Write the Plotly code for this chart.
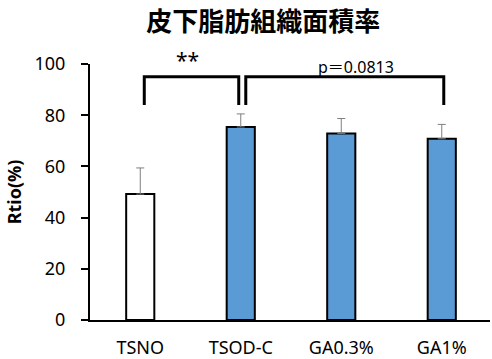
import plotly.graph_objects as go

# Subcutaneous fat tissue area ratio by group
groups = ["TSNO", "TSOD-C", "GA0.3%", "GA1%"]
ratio = [49.2, 75.4, 72.9, 70.8]
sd = [10.2, 5.1, 5.8, 5.6]
fill_colors = ["#FFFFFF", "#5B9BD5", "#5B9BD5", "#5B9BD5"]

tick_vals = [0, 20, 40, 60, 80, 100]

# significance brackets: (start index, end index, label)
brackets = [(0, 1, "**"), (1, 3, "p\uff1d0.0813")]
bracket_top = 95
bracket_bottom = 84

font_main = "Noto Sans, Noto Sans CJK JP, sans-serif"

fig = go.Figure()
fig.add_trace(go.Bar(
    x=groups,
    y=ratio,
    width=0.28,
    marker=dict(color=fill_colors, line=dict(color="#000000", width=2)),
    error_y=dict(type="data", array=sd, arrayminus=[0] * len(sd), symmetric=False,
                 color="#7F7F7F", thickness=1, width=4),
    showlegend=False,
))

shapes = []
for i, (a, b, label) in enumerate(brackets):
    x0 = a + (0.04 if i == 0 else 0.05)
    x1 = b - (0.02 if i == 0 else -0.02)
    shapes.append(dict(
        type="path", xref="x", yref="y",
        path=f"M {x0},{bracket_bottom} L {x0},{bracket_top} L {x1},{bracket_top} L {x1},{bracket_bottom}",
        line=dict(color="#000000", width=3),
    ))

annotations = [
    dict(x=0.47, y=1.015, xref="x", yref="paper", text="**", showarrow=False,
         font=dict(family=font_main, size=21, color="#000000"), yanchor="middle"),
    dict(x=2.15, y=0.99, xref="x", yref="paper", text="p\uff1d0.0813", showarrow=False,
         font=dict(family=font_main, size=16, color="#000000"), yanchor="middle"),
]

fig.update_layout(
    width=492, height=359,
    margin=dict(l=90, r=2, t=64, b=39),
    plot_bgcolor="#FFFFFF", paper_bgcolor="#FFFFFF",
    title=dict(text="<b>皮下脂肪組織面積率</b>", x=0.535, xanchor="center", y=0.939, yanchor="middle",
               font=dict(family="Noto Sans CJK JP", size=26, color="#000000")),
    shapes=shapes,
    annotations=annotations,
    xaxis=dict(
        showline=True, linecolor="#000000", linewidth=2,
        showgrid=False, ticks="", tickfont=dict(family=font_main, size=18, color="#000000"),
        ticklabelstandoff=10, automargin=False,
        range=[-0.5, 3.48],
    ),
    yaxis=dict(
        range=[0, 100], tickvals=tick_vals,
        showline=True, linecolor="#000000", linewidth=2,
        showgrid=False, zeroline=False,
        ticks="outside", ticklen=7, tickwidth=2, tickcolor="#000000",
        tickfont=dict(family=font_main, size=18, color="#000000"),
        ticklabelstandoff=12, automargin=False,
        title=dict(text="<b>Rtio(%)</b>", font=dict(family=font_main, size=18, color="#000000"),
                   standoff=8),
    ),
)

fig.write_html("out.html")
